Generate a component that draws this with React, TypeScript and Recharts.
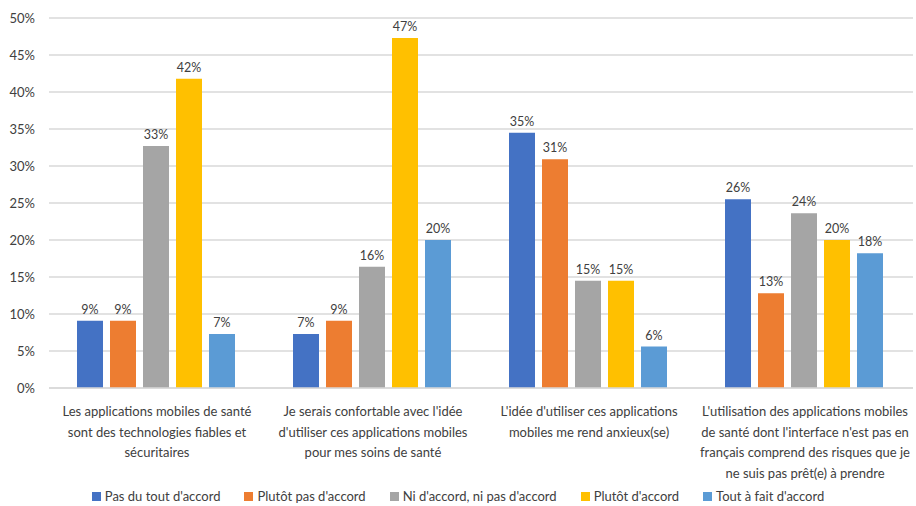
import React from "react";
import { BarChart, Bar, XAxis, YAxis, CartesianGrid, LabelList } from "recharts";

const categories = [
  "Les applications mobiles de santé\nsont des technologies fiables et\nsécuritaires",
  "Je serais confortable avec l'idée\nd'utiliser ces applications mobiles\npour mes soins de santé",
  "L'idée d'utiliser ces applications\nmobiles me rend anxieux(se)",
  "L'utilisation des applications mobiles\nde santé dont l'interface n'est pas en\nfrançais comprend des risques que je\nne suis pas prêt(e) à prendre",
];

const seriesNames = [
  "Pas du tout d'accord",
  "Plutôt pas d'accord",
  "Ni d'accord, ni pas d'accord",
  "Plutôt d'accord",
  "Tout à fait d'accord",
];

const pasDuTout = [9.1, 7.3, 34.5, 25.5];
const plutotPas = [9.1, 9.1, 30.9, 12.8];
const niNi = [32.7, 16.4, 14.5, 23.6];
const plutot = [41.8, 47.3, 14.5, 20.0];
const toutAFait = [7.3, 20.0, 5.6, 18.2];

const yTicks = [0, 5, 10, 15, 20, 25, 30, 35, 40, 45, 50];

const colors = ["#4472C4", "#ED7D31", "#A5A5A5", "#FFC000", "#5B9BD5"];
const keys = ["s0", "s1", "s2", "s3", "s4"];
const allSeries = [pasDuTout, plutotPas, niNi, plutot, toutAFait];

const data = categories.map((name, i) => {
  const row: any = { name };
  allSeries.forEach((s, j) => (row[keys[j]] = s[i]));
  return row;
});

const FONT = "Lato, 'Open Sans', sans-serif";
const TEXT = "#404040";

const CategoryTick = (props: any) => {
  const { x, y, payload } = props;
  const lines = String(payload.value).split("\n");
  return (
    <text x={x} y={y} textAnchor="middle" fill={TEXT} fontSize={13} fontFamily={FONT}>
      {lines.map((l, i) => (
        <tspan key={i} x={x} dy={i === 0 ? 20 : 20.5}>
          {l}
        </tspan>
      ))}
    </text>
  );
};

const LegendRow = () => (
  <div
    style={{
      position: "absolute",
      left: 0,
      top: 488,
      width: 916,
      display: "flex",
      justifyContent: "center",
      gap: 24,
      fontFamily: FONT,
      fontSize: 13,
      color: TEXT,
    }}
  >
    {seriesNames.map((n, i) => (
      <div key={n} style={{ display: "flex", alignItems: "center" }}>
        <span style={{ width: 9, height: 9, background: colors[i], marginRight: 4, display: "inline-block" }} />
        <span>{n}</span>
      </div>
    ))}
  </div>
);

export default function App() {
  return (
    <div style={{ position: "absolute", left: 0, top: 0, width: 916, height: 506, background: "#fff" }}>
      <BarChart
        width={916}
        height={506}
        data={data}
        margin={{ top: 18, right: 3, left: 4, bottom: 24 }}
        barCategoryGap={28}
        barGap={7}
      >
        <CartesianGrid vertical={false} stroke="#d9d9d9" strokeWidth={1.5} />
        <XAxis
          dataKey="name"
          axisLine={{ stroke: "#d9d9d9", strokeWidth: 1.5 }}
          tickLine={false}
          interval={0}
          height={94}
          tick={<CategoryTick />}
        />
        <YAxis
          domain={[0, 50]}
          ticks={yTicks}
          width={45}
          axisLine={false}
          tickLine={false}
          tickFormatter={(v: number) => `${v}%`}
          tick={{ fill: TEXT, fontSize: 13, fontFamily: FONT }}
          tickMargin={8}
        />
        {keys.map((k, i) => (
          <Bar key={k} dataKey={k} name={seriesNames[i]} fill={colors[i]} isAnimationActive={false}>
            <LabelList
              dataKey={k}
              position="top"
              offset={7}
              formatter={(v: any) => `${Math.round(Number(v))}%`}
              style={{ fill: TEXT, fontSize: 12.5, fontFamily: FONT }}
            />
          </Bar>
        ))}
      </BarChart>
      <LegendRow />
    </div>
  );
}
